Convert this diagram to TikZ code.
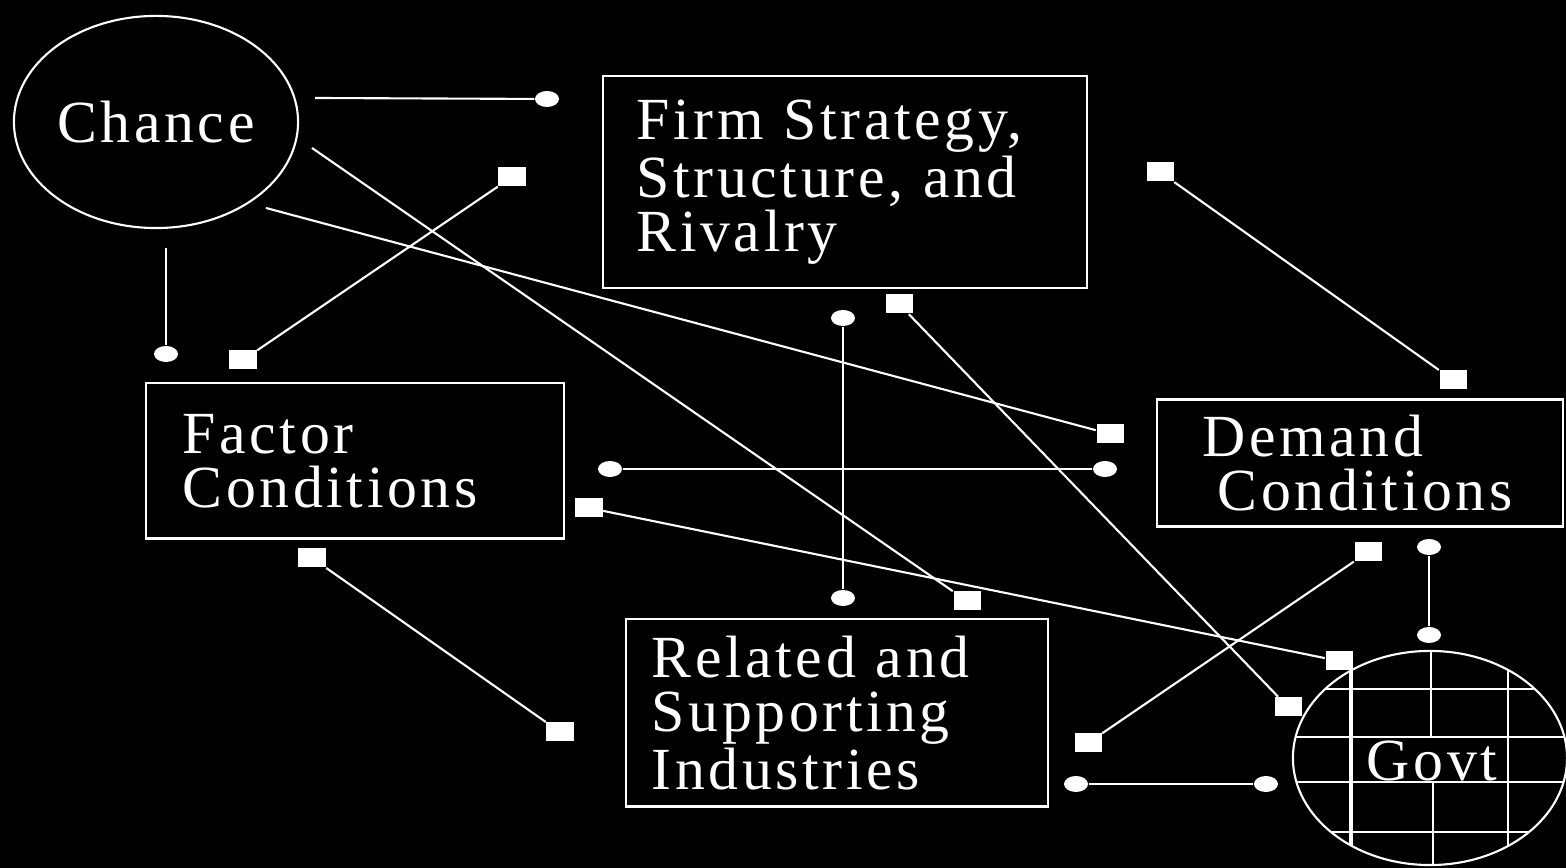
\documentclass[tikz,border=0pt]{standalone}
\usepackage{fontspec}
\usetikzlibrary{shapes.geometric}
\newfontfamily\diagfont{Liberation Serif}[LetterSpace=6]
\begin{document}
\begin{tikzpicture}[x=0.01cm,y=-0.01cm,
  every node/.style={text=white},
  wire/.style={draw=white,line width=0.6pt},
  labelfont/.style={font=\diagfont\fontsize{17}{15.4}\selectfont},
  boxnode/.style={draw=white,line width=0.6pt,rectangle,align=left,labelfont,inner ysep=0pt},
  ovalnode/.style={draw=white,line width=0.6pt,ellipse,inner sep=0pt,labelfont},
  sqend/.style={rectangle,fill=white,inner sep=0pt,minimum width=0.27cm,minimum height=0.19cm},
  dotend/.style={ellipse,fill=white,inner sep=0pt,minimum width=0.24cm,minimum height=0.16cm}]

% page
\fill[black] (0,0) rectangle (1566,868);
\useasboundingbox (0,0) rectangle (1566,868);

% the four boxes and the two ovals
\node[ovalnode,minimum width=2.84cm,minimum height=2.12cm] (chance) at (156,122) {Chance};
\node[boxnode,minimum height=2.12cm,text width=4.16cm,inner xsep=0.34cm] (firm) at (845,182)
  {Firm Strategy,\\Structure, and\\Rivalry};
\node[boxnode,minimum height=1.55cm,text width=3.44cm,inner xsep=0.37cm] (factor) at (355,461)
  {Factor\\Conditions};
\node[boxnode,minimum height=1.27cm,text width=3.14cm,inner xsep=0.46cm] (demand) at (1360,463)
  {Demand\\\hspace*{0.15cm}Conditions};
\node[boxnode,minimum height=1.87cm,text width=3.70cm,inner xsep=0.26cm] (related) at (837,713)
  {Related and\\Supporting\\Industries};
\node[ovalnode,minimum width=2.74cm,minimum height=2.14cm] (govt) at (1430,758) {};

% grid inside the government oval
\begin{scope}
  \clip (1430,758) ellipse [x radius=1.37cm, y radius=1.07cm];
  \foreach \yy in {689,737,782,832}
    \draw[wire] (1280,\yy) -- (1580,\yy);
  \draw[white,line width=1.1pt] (1351,640) -- (1351,880);
  \draw[wire] (1508,640) -- (1508,880);
  \draw[wire] (1431,640) -- (1431,737);
  \draw[wire] (1433,782) -- (1433,880);
\end{scope}
\node[labelfont,inner sep=0pt] (govtlabel) at (1432,761) {Govt};

% free ends beside the chance oval
\coordinate (ch1) at (315,98);
\coordinate (ch2) at (166,248);
\coordinate (ch3) at (312,148);
\coordinate (ch4) at (266,208);

% end markers
\node[dotend] (d1) at (547,99) {};
\node[dotend] (d2) at (166,354) {};
\node[sqend] (s3) at (967,601) {};
\node[sqend] (s4) at (1110,434) {};
\node[sqend] (s5a) at (512,177) {};
\node[sqend] (s5b) at (243,360) {};
\node[sqend] (s6a) at (1160,172) {};
\node[sqend] (s6b) at (1453,380) {};
\node[dotend] (d7a) at (843,318) {};
\node[dotend] (d7b) at (843,598) {};
\node[sqend] (s8a) at (899,304) {};
\node[sqend] (s8b) at (1288,707) {};
\node[dotend] (d9a) at (610,469) {};
\node[dotend] (d9b) at (1105,469) {};
\node[sqend] (s10a) at (589,508) {};
\node[sqend] (s10b) at (1339,661) {};
\node[sqend] (s11a) at (312,558) {};
\node[sqend] (s11b) at (560,732) {};
\node[sqend] (s12a) at (1368,552) {};
\node[sqend] (s12b) at (1088,743) {};
\node[dotend] (d13a) at (1429,547) {};
\node[dotend] (d13b) at (1429,635) {};
\node[dotend] (d14a) at (1076,784) {};
\node[dotend] (d14b) at (1266,784) {};

% connectors
\draw[wire] (ch1) -- (d1);
\draw[wire] (ch2) -- (d2);
\draw[wire] (ch3) -- (s3);
\draw[wire] (ch4) -- (s4);
\draw[wire] (s5a) -- (s5b);
\draw[wire] (s6a) -- (s6b);
\draw[wire] (d7a) -- (d7b);
\draw[wire] (s8a) -- (s8b);
\draw[wire] (d9a) -- (d9b);
\draw[wire] (s10a) -- (s10b);
\draw[wire] (s11a) -- (s11b);
\draw[wire] (s12a) -- (s12b);
\draw[wire] (d13a) -- (d13b);
\draw[wire] (d14a) -- (d14b);
\end{tikzpicture}
\end{document}
